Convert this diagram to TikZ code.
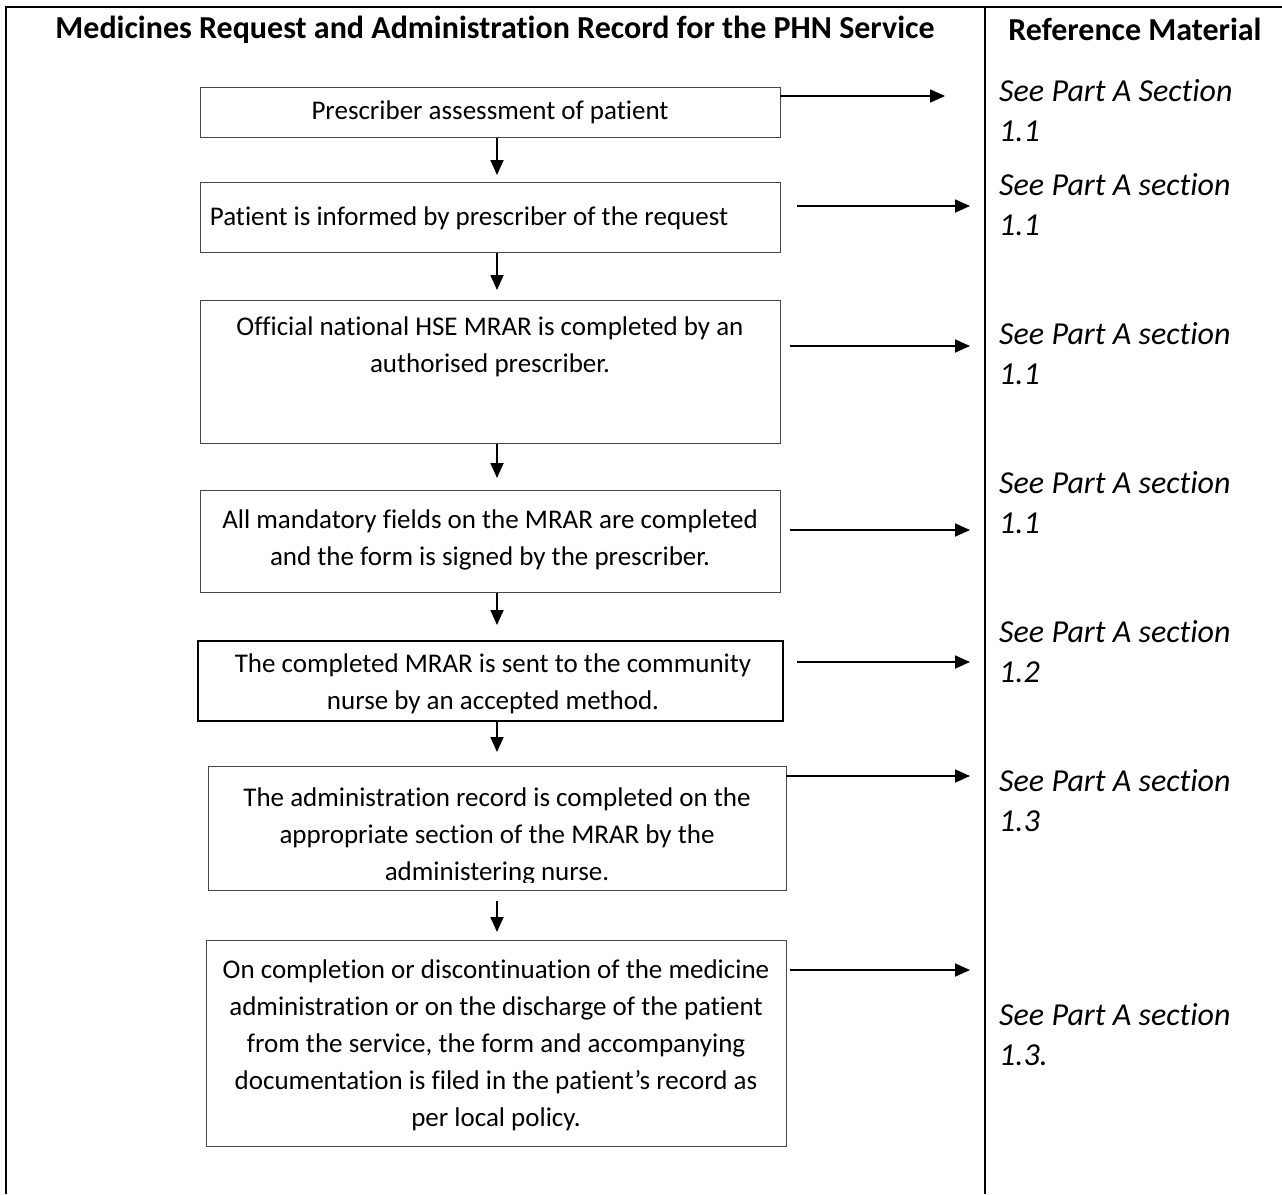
\documentclass[tikz,border=0pt]{standalone}
\usepackage{fontspec}
\setmainfont{Carlito}[Ligatures=CommonOff]
\usetikzlibrary{arrows.meta}
\begin{document}
\begin{tikzpicture}[x=1pt,y=-1pt,
  box/.style={draw=black!72, line width=1.3pt, anchor=north west, inner sep=0pt},
  txt/.style={align=center, font=\fontsize{27}{37}\selectfont, inner sep=0pt},
  reftxt/.style={align=left, anchor=west, font=\fontsize{32}{40}\selectfont\itshape, inner sep=0pt},
  hd/.style={font=\fontsize{32}{36}\selectfont\bfseries, inner sep=0pt},
  frameline/.style={line width=2.6pt},
  arr/.style={line width=1.8pt, -{Triangle[length=15pt,width=13pt]}}]
\useasboundingbox (0,0) rectangle (1282,1194);
% frame
\coordinate (ftl) at (6,7);
\coordinate (ftr) at (1282,7);
\coordinate (fbl) at (6,1194);
\coordinate (dtop) at (985,7);
\coordinate (dbot) at (985,1194);
\draw[frameline] (fbl) -- (ftl) -- (ftr);
\draw[frameline] (dtop) -- (dbot);
% headers
\node[hd] (h1) at (495,30) {Medicines Request and Administration Record for the PHN Service};
\node[hd] (h2) at (1135,29) {Reference Material};
% boxes
\node[box, minimum width=580, minimum height=50] (b1) at (200,87) {};
\node[box, minimum width=580, minimum height=70] (b2) at (200,182) {};
\node[box, minimum width=580, minimum height=143] (b3) at (200,300) {};
\node[box, minimum width=580, minimum height=102] (b4) at (200,490) {};
\node[box, draw=black, line width=1.8pt, minimum width=585, minimum height=80] (b5) at (197,640) {};
\node[box, minimum width=578, minimum height=124] (b6) at (208,766) {};
\node[box, minimum width=580, minimum height=206] (b7) at (206,940) {};
% box texts
\node[txt] (t1) at (490,112) {Prescriber assessment of patient};
\node[txt] (t2) at (469,218) {Patient is informed by prescriber of the request};
\node[txt] (t3) at (490,347) {Official national HSE MRAR is completed by an\\authorised prescriber.};
\node[txt] (t4) at (490,540) {All mandatory fields on the MRAR are completed\\and the form is signed by the prescriber.};
\node[txt] (t5) at (493,684) {The completed MRAR is sent to the community\\nurse by an accepted method.};
\begin{scope}
\clip (b6.north west) rectangle ([yshift=9pt]b6.south east);
\node[txt] (t6) at (497,836) {The administration record is completed on the\\appropriate section of the MRAR by the\\administering nurse.};
\end{scope}
\node[txt] (t7) at (496,1045) {On completion or discontinuation of the medicine\\administration or on the discharge of the patient\\from the service, the form and accompanying\\documentation is filed in the patient’s record as\\per local policy.};
% reference texts
\node[reftxt] (r1) at (999,111) {See Part A Section\\1.1};
\node[reftxt] (r2) at (999,204.5) {See Part A section\\1.1};
\node[reftxt] (r3) at (999,353.5) {See Part A section\\1.1};
\node[reftxt] (r4) at (999,502.5) {See Part A section\\1.1};
\node[reftxt] (r5) at (999,651.5) {See Part A section\\1.2};
\node[reftxt] (r6) at (999,800.5) {See Part A section\\1.3};
\node[reftxt] (r7) at (999,1035) {See Part A section\\1.3.};
% down arrows
\coordinate (dx) at (497,0);
\draw[arr, shorten >=7pt] (b1.south -| dx) -- (b2.north -| dx);
\draw[arr, shorten >=10pt] (b2.south -| dx) -- (b3.north -| dx);
\draw[arr, shorten >=12pt] (b3.south -| dx) -- (b4.north -| dx);
\draw[arr, shorten >=15pt] (b4.south -| dx) -- (b5.north -| dx);
\draw[arr, shorten >=14pt] (b5.south -| dx) -- (b6.north -| dx);
\draw[arr, shorten <=10pt, shorten >=8pt] (b6.south -| dx) -- (b7.north -| dx);
% side arrows
\coordinate (s1) at (780,96);  \coordinate (e1) at (945,96);
\coordinate (s2) at (797,206); \coordinate (e2) at (970,206);
\coordinate (s3) at (790,346); \coordinate (e3) at (970,346);
\coordinate (s4) at (790,530); \coordinate (e4) at (970,530);
\coordinate (s5) at (797,662); \coordinate (e5) at (970,662);
\coordinate (s6) at (786,776); \coordinate (e6) at (970,776);
\coordinate (s7) at (790,970); \coordinate (e7) at (970,970);
\foreach \i in {1,...,7} {\draw[arr] (s\i) -- (e\i);}
\end{tikzpicture}
\end{document}
